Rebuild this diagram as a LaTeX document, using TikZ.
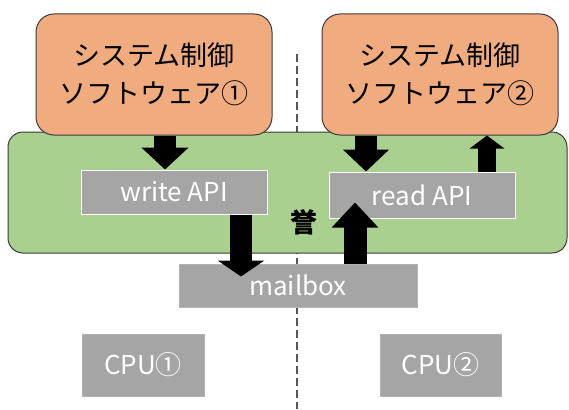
\documentclass[tikz,border=0pt]{standalone}
\usepackage{fontspec}
\setmainfont{Noto Sans CJK JP}
\newfontfamily\jp{Noto Sans CJK JP}
\usetikzlibrary{arrows.meta}
\definecolor{swfill}{HTML}{F0AC7E}
\definecolor{osfill}{HTML}{A9D08E}
\definecolor{boxgray}{HTML}{A5A5A5}
\definecolor{edge}{HTML}{3A3A3A}
\definecolor{sepline}{HTML}{555555}
\tikzset{
  swbox/.style={draw=edge, line width=1pt, fill=swfill, rounded corners=18pt,
    minimum width=236pt, minimum height=121pt, align=center, inner sep=0pt,
    font=\jp\fontsize{27}{38}\selectfont},
  osbox/.style={draw=edge, line width=1pt, fill=osfill, rounded corners=15pt,
    minimum width=559pt, minimum height=121pt, inner sep=0pt},
  graybox/.style={fill=boxgray, draw=#1, line width=1pt, inner sep=0pt,
    text=white, font=\jp\fontsize{26}{28}\selectfont},
  graybox/.default=white,
  blockarrow/.style n args={3}{line width=#1pt, draw=black,
    -{Triangle[width=#2pt,length=#3pt]}},
  divider/.style={draw=sepline, line width=2pt, dash pattern=on 8pt off 4pt}
}
\begin{document}
\begin{tikzpicture}[x=1pt,y=-1pt]
\useasboundingbox (0,0) rectangle (569,409);

% separator between the two CPUs
\coordinate (septop) at (297,54);
\coordinate (sepbot) at (297,409);
\draw[divider] (septop) -- (sepbot);

% shared layer
\node[osbox] (os) at (287.5,192.5) {};
\node[font=\jp\fontsize{27}{27}\selectfont\bfseries] (mark) at (304,222) {誉};

% API and mailbox boxes
\node[graybox, minimum width=186pt, minimum height=44pt] (wapi) at (174,192) {write API};
\node[graybox, minimum width=186pt, minimum height=46pt] (rapi) at (422,195) {read API};
\node[graybox=boxgray!85!white, minimum width=238pt, minimum height=43pt] (mb) at (298,285.5) {mailbox};

% CPUs
\node[graybox=boxgray!85!white, minimum width=122pt, minimum height=62pt] (cpu1) at (143,365) {CPU①};
\node[graybox=boxgray!85!white, minimum width=121pt, minimum height=62pt] (cpu2) at (440.5,365) {CPU②};

% control software
\node[swbox] (sw1) at (154,74.5) {システム制御\\ソフトウェア①};
\node[swbox] (sw2) at (440,74.5) {システム制御\\ソフトウェア②};

% end points of the arrows that overlap their target boxes
\coordinate (mbin) at ([yshift=-13pt]mb.north -| 241,0);
\coordinate (rapiin) at ([yshift=16pt]rapi.south -| 355,0);

% data flow
\draw[blockarrow={22}{46}{22}] (sw1.south -| 165,0) -- (wapi.north -| 165,0);
\draw[blockarrow={22}{46}{16}] (wapi.south -| 241,0) -- (mbin);
\draw[blockarrow={22}{45}{22}] (sw2.south -| 366,0) -- (rapi.north -| 366,0);
\draw[blockarrow={18}{34}{13}] (rapi.north -| 487,0) -- (sw2.south -| 487,0);
\draw[blockarrow={23}{45}{25}] (mb.north -| 355,0) -- (rapiin);
\end{tikzpicture}
\end{document}
